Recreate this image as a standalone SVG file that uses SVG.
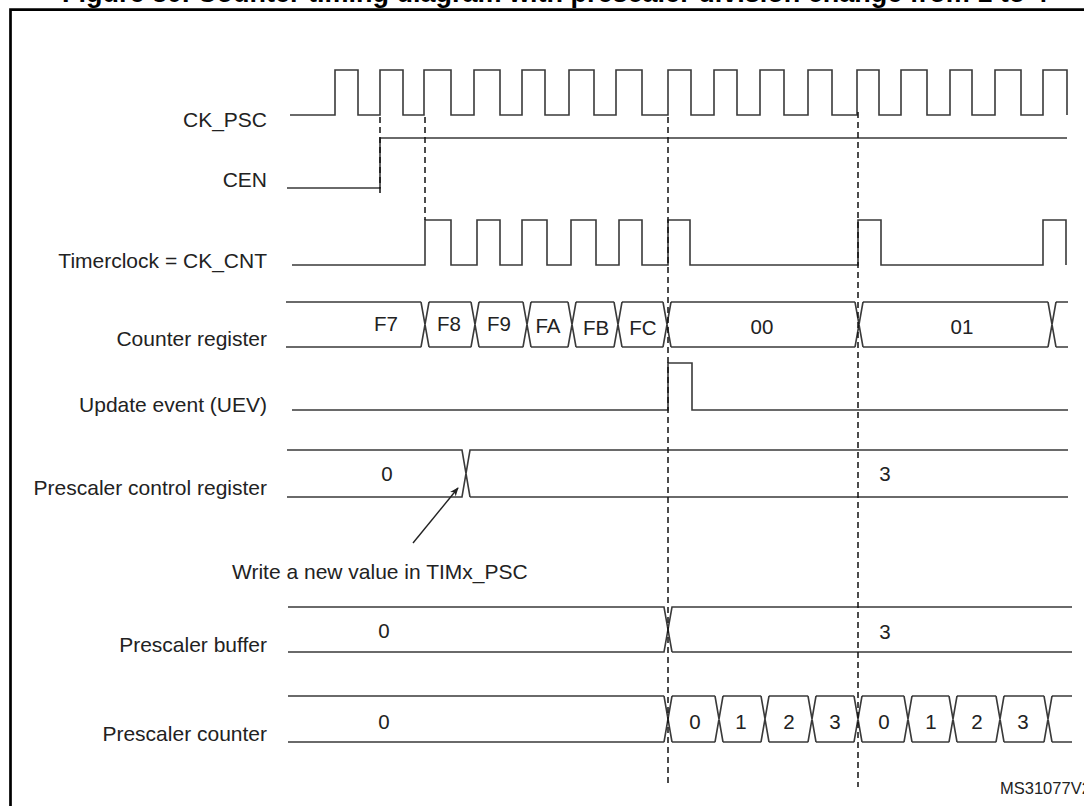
<svg xmlns="http://www.w3.org/2000/svg" width="1084" height="806" viewBox="0 0 1084 806">
<style>
.sig{fill:none;stroke:#3a3a3a;stroke-width:1.6;stroke-linejoin:miter}
.dash{fill:none;stroke:#111;stroke-width:1.5;stroke-dasharray:6 4}
.lbl{font-family:"Liberation Sans",Arial,sans-serif;font-size:21px;fill:#222;text-anchor:end}
.val{font-family:"Liberation Sans",Arial,sans-serif;font-size:20.5px;fill:#222;text-anchor:middle}
.note{font-family:"Liberation Sans",Arial,sans-serif;font-size:21px;fill:#222}
.title{font-family:"Liberation Sans",Arial,sans-serif;font-size:27px;font-weight:bold;fill:#000}
</style>
<defs>
<marker id="ah" viewBox="0 0 10 10" refX="9" refY="5" markerWidth="9" markerHeight="9" markerUnits="userSpaceOnUse" orient="auto">
<path d="M0,1 L10,5 L0,9 L3,5 Z" fill="#222"/>
</marker>
</defs>
<rect width="1084" height="806" fill="#fff"/>
<text class="title" x="62" y="2">Figure 80. Counter timing diagram with prescaler division change from 1 to 4</text>
<path d="M10.5,806 V9.7 H1084" fill="none" stroke="#000" stroke-width="2.7"/>

<g id="ck_psc">
<text class="lbl" x="267" y="127">CK_PSC</text>
<path class="sig" d="M290,115 H335 V70 H358 V115 H380 V70 H403 V115 H424 V70 H451 V115 H474 V70 H500 V115 H522 V70 H545 V115 H569 V70 H594 V115 H616 V70 H642 V115 H668 V70 H691 V115 H714 V70 H737 V115 H760 V70 H784 V115 H808 V70 H832 V115 H857 V70 H879 V115 H901 V70 H927 V115 H950 V70 H972 V115 H995 V70 H1021 V115 H1043 V70 H1067 V115"/>
</g>

<g id="cen">
<text class="lbl" x="267" y="187">CEN</text>
<path class="sig" d="M287,188 H380 V138 H1067"/>
</g>

<g id="ck_cnt">
<text class="lbl" x="267" y="268">Timerclock = CK_CNT</text>
<path class="sig" d="M292,265 H425 V220 H451 V265 H477 V220 H500 V265 H522 V220 H547 V265 H571 V220 H596 V265 H619 V220 H642 V265 H668 V220 H690 V265 H858 V220 H881 V265 H1043 V220 H1066 V265"/>
</g>

<g id="counter_register">
<text class="lbl" x="267" y="346">Counter register</text>
<path class="sig" d="M286,302 H421 M429,302 H471 M479,302 H523 M531,302 H568 M576,302 H614 M622,302 H663 M671,302 H855 M863,302 H1048 M1056,302 H1068 M286,347 H421 M429,347 H471 M479,347 H523 M531,347 H568 M576,347 H614 M622,347 H663 M671,347 H855 M863,347 H1048 M1056,347 H1068 M421,302 L429,347 M421,347 L429,302 M471,302 L479,347 M471,347 L479,302 M523,302 L531,347 M523,347 L531,302 M568,302 L576,347 M568,347 L576,302 M614,302 L622,347 M614,347 L622,302 M663,302 L671,347 M663,347 L671,302 M855,302 L863,347 M855,347 L863,302 M1048,302 L1056,347 M1048,347 L1056,302"/>
<text class="val" x="386" y="331">F7</text>
<text class="val" x="449" y="331">F8</text>
<text class="val" x="499" y="331">F9</text>
<text class="val" x="548" y="333">FA</text>
<text class="val" x="596" y="335">FB</text>
<text class="val" x="643" y="335">FC</text>
<text class="val" x="762" y="334">00</text>
<text class="val" x="962" y="334">01</text>
</g>

<g id="uev">
<text class="lbl" x="267" y="412">Update event (UEV)</text>
<path class="sig" d="M292,410 H668 V363 H692 V410 H1068"/>
</g>

<g id="psc_control">
<text class="lbl" x="267" y="495">Prescaler control register</text>
<path class="sig" d="M287,450 H462 L470,497 M287,497 H462 L470,450 H1068 M470,497 H1068"/>
<text class="val" x="387" y="481">0</text>
<text class="val" x="885" y="481">3</text>
</g>

<g id="note">
<text class="note" x="232" y="579">Write a new value in TIMx_PSC</text>
</g>

<g id="psc_buffer">
<text class="lbl" x="267" y="652">Prescaler buffer</text>
<path class="sig" d="M288,607 H664 L672,652 M288,652 H664 L672,607 H1072 M672,652 H1072"/>
<text class="val" x="384" y="638">0</text>
<text class="val" x="885" y="639">3</text>
</g>

<g id="psc_counter">
<text class="lbl" x="267" y="741">Prescaler counter</text>
<path class="sig" d="M288,696 H664 M672,696 H715 M723,696 H761 M769,696 H808 M816,696 H854 M862,696 H904 M912,696 H949 M957,696 H996 M1004,696 H1044 M1052,696 H1072 M288,742 H664 M672,742 H715 M723,742 H761 M769,742 H808 M816,742 H854 M862,742 H904 M912,742 H949 M957,742 H996 M1004,742 H1044 M1052,742 H1072 M664,696 L672,742 M664,742 L672,696 M715,696 L723,742 M715,742 L723,696 M761,696 L769,742 M761,742 L769,696 M808,696 L816,742 M808,742 L816,696 M854,696 L862,742 M854,742 L862,696 M904,696 L912,742 M904,742 L912,696 M949,696 L957,742 M949,742 L957,696 M996,696 L1004,742 M996,742 L1004,696 M1044,696 L1052,742 M1044,742 L1052,696"/>
<text class="val" x="384" y="729">0</text>
<text class="val" x="695" y="729">0</text>
<text class="val" x="741" y="729">1</text>
<text class="val" x="789" y="729">2</text>
<text class="val" x="835" y="729">3</text>
<text class="val" x="884" y="729">0</text>
<text class="val" x="931" y="729">1</text>
<text class="val" x="977" y="729">2</text>
<text class="val" x="1023" y="729">3</text>
</g>

<g id="connectors">
<path class="dash" d="M380,117 V197"/>
<path class="dash" d="M425,117 V220"/>
<path class="dash" d="M668,117 V787"/>
<path class="dash" d="M858,112 V787"/>
<path d="M413,543 L458,488" fill="none" stroke="#222" stroke-width="1.4" marker-end="url(#ah)"/>
</g>

<text class="note" x="1000" y="794" style="font-size:16.5px">MS31077V2</text>
</svg>
